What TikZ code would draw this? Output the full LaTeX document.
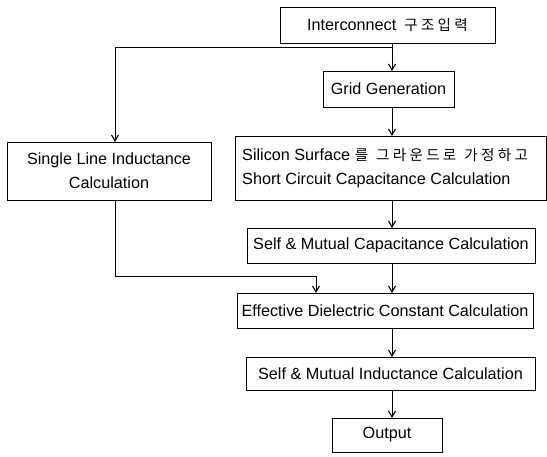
\documentclass[tikz,border=0pt]{standalone}
\usepackage{fontspec}
\setmainfont{Liberation Sans}
\newfontfamily\kr{Noto Sans CJK KR}
\usetikzlibrary{arrows.meta}
\newcommand{\krs}{\kr\fontsize{14.6}{24}\selectfont}
\begin{document}
\begin{tikzpicture}[x=1pt,y=-1pt,
  boxline/.style={draw=black,line width=0.9pt},
  lbl/.style={inner sep=0pt,font=\fontsize{16.2}{24}\selectfont,align=center},
  conn/.style={draw=black,line width=0.9pt,-{Straight Barb[length=6pt,width=7pt,line width=1.1pt]}}]
\useasboundingbox (0,0) rectangle (547,456);
% boxes
\draw[boxline] (280,7) rectangle (495,43);
\node[lbl] (top) at (387.5,25) {Interconnect\hspace{8pt}{\krs 구 조 입 력}};
\draw[boxline] (323,71) rectangle (454,107);
\node[lbl] (grid) at (388.5,89) {Grid Generation};
\draw[boxline] (7,142) rectangle (211,200);
\node[lbl] (single) at (109,171) {Single Line Inductance\\Calculation};
\draw[boxline] (235,136) rectangle (546,200);
\node[lbl,align=left,anchor=west] (sil) at (242,168) {Silicon Surface {\krs 를\hspace{8pt}그 라 운 드 로\hspace{8pt}가 정 하 고}\\Short Circuit Capacitance Calculation};
\draw[boxline] (247,228) rectangle (535,263);
\node[lbl] (cap) at (391,245.5) {Self \& Mutual Capacitance Calculation};
\draw[boxline] (237,293) rectangle (533,328);
\node[lbl] (eff) at (385,310.5) {Effective Dielectric Constant Calculation};
\draw[boxline] (246,357) rectangle (535,390);
\node[lbl] (ind) at (390.5,373.5) {Self \& Mutual Inductance Calculation};
\draw[boxline] (332,418) rectangle (442,452);
\node[lbl] (out) at (387,435) {Output};
% named connection points
\coordinate (tB) at (392,43);
\coordinate (split) at (392,47);
\coordinate (lcorner) at (115,47);
\coordinate (gT) at (392,71);
\coordinate (gB) at (392,107);
\coordinate (sT) at (392,136);
\coordinate (sB) at (392,200);
\coordinate (slT) at (115,142);
\coordinate (slB) at (115,200);
\coordinate (bcorner) at (115,276);
\coordinate (ecorner) at (316,276);
\coordinate (eTl) at (316,293);
\coordinate (cT) at (392,228);
\coordinate (cB) at (392,263);
\coordinate (eT) at (392,293);
\coordinate (eB) at (392,328);
\coordinate (iT) at (392,357);
\coordinate (iB) at (392,390);
\coordinate (oT) at (392,418);
% connectors
\draw[conn] (tB) -- (gT);
\draw[conn] (split) -- (lcorner) -- (slT);
\draw[conn] (gB) -- (sT);
\draw[conn] (sB) -- (cT);
\draw[conn] (slB) -- (bcorner) -- (ecorner) -- (eTl);
\draw[conn] (cB) -- (eT);
\draw[conn] (eB) -- (iT);
\draw[conn] (iB) -- (oT);
\end{tikzpicture}
\end{document}
